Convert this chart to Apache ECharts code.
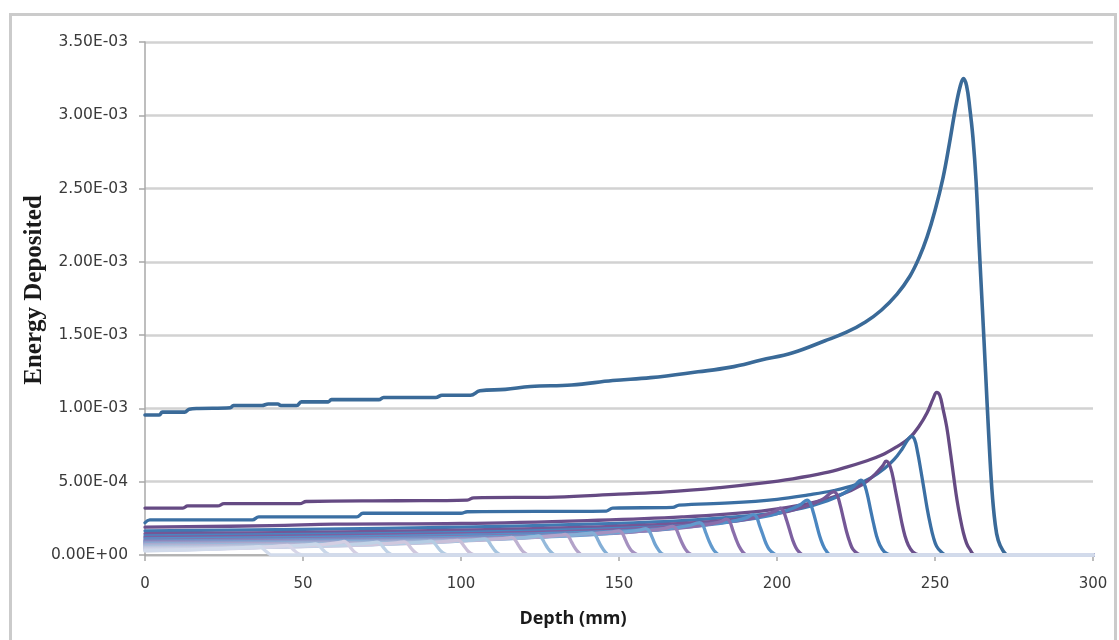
<!DOCTYPE html>
<html>
<head>
<meta charset="utf-8">
<script src="https://cdn.jsdelivr.net/npm/echarts@6/dist/echarts.min.js"></script>
<style>
html,body{margin:0;padding:0;background:#fff;}
#chart{width:1119px;height:640px;}
</style>
</head>
<body>
<div id="chart"></div>
<script>
// Depth (mm) vs energy deposited; y values in units of 1e-3
const xTicks = [0, 50, 100, 150, 200, 250, 300];
const yTickLabels = ['0.00E+00','5.00E-04','1.00E-03','1.50E-03','2.00E-03','2.50E-03','3.00E-03','3.50E-03'];

const curve00 = [[0,0.955],[4.5,0.955],[5.5,0.975],[12.5,0.975],[14,0.995],[17,1.0],[27,1.005],[28,1.02],[37,1.02],[39,1.03],[42,1.03],[43,1.02],[48,1.02],[49.5,1.045],[58,1.045],[59,1.06],[74,1.06],[75.5,1.075],[92,1.075],[94,1.09],[103,1.09],[106,1.12],[114,1.13],[122,1.15],[135,1.16],[148,1.19],[160,1.21],[175,1.25],[185,1.28],[195,1.33],[205,1.38],[215,1.46],[222,1.52],[228,1.59],[233,1.67],[238,1.78],[242,1.90],[245,2.03],[247.5,2.17],[250,2.35],[252.5,2.57],[254.5,2.8],[256.5,3.05],[258,3.2],[259,3.25],[260,3.2],[261,3.05],[262,2.85],[263,2.55],[264,2.1],[265,1.68],[266,1.25],[267,0.82],[268,0.45],[269,0.22],[270,0.1],[271.5,0.03],[273,0],[300,0]];
const curve01 = [[0,0.32],[12,0.32],[13.5,0.335],[23,0.335],[25,0.35],[49,0.35],[51,0.365],[80,0.37],[102,0.375],[104,0.39],[130,0.395],[150,0.415],[165,0.43],[182,0.46],[195,0.49],[205,0.52],[215,0.56],[222,0.6],[228,0.64],[233,0.68],[238,0.74],[242,0.8],[245,0.88],[247.5,0.97],[249.5,1.07],[250.5,1.11],[251.5,1.09],[252.5,1.0],[253.7,0.875],[255,0.68],[256,0.52],[257,0.37],[258,0.25],[259,0.15],[260,0.08],[261,0.04],[262.7,0],[300,0]];
const curve02 = [[0,0.22],[1.5,0.24],[34,0.24],[36,0.26],[67,0.26],[69,0.285],[100,0.285],[102,0.295],[146,0.3],[148,0.32],[167,0.325],[169,0.34],[185,0.355],[200,0.38],[210,0.41],[218,0.44],[225,0.48],[230,0.53],[234,0.59],[237,0.65],[239.5,0.72],[241.5,0.79],[242.5,0.81],[243.5,0.79],[244.5,0.7],[245.5,0.58],[246.5,0.45],[247.5,0.32],[248.5,0.21],[249.5,0.12],[250.5,0.06],[252,0.02],[253.7,0],[300,0]];
const curve03 = [[0,0.19],[40,0.2],[60,0.21],[100,0.215],[140,0.235],[170,0.26],[195,0.3],[210,0.35],[220,0.41],[227,0.48],[231,0.55],[233.5,0.61],[234.5,0.64],[235.5,0.62],[236.5,0.55],[237.5,0.44],[238.5,0.33],[239.5,0.22],[240.5,0.13],[241.5,0.07],[243,0.02],[245,0],[300,0]];
const curve04 = [[0,0.165],[50,0.175],[100,0.19],[140,0.21],[170,0.235],[195,0.275],[208,0.32],[216,0.37],[221,0.42],[224.5,0.47],[226.5,0.51],[227.5,0.49],[228.5,0.42],[229.5,0.32],[230.5,0.22],[231.5,0.13],[232.5,0.07],[234,0.02],[236,0],[300,0]];
const curve05 = [[0,0.145],[50,0.155],[100,0.17],[140,0.19],[170,0.215],[190,0.25],[202,0.29],[210,0.34],[214.5,0.38],[218,0.43],[219,0.41],[220,0.34],[221,0.25],[222,0.16],[223,0.09],[224,0.04],[225.5,0.01],[227,0],[300,0]];
const curve06 = [[0,0.13],[50,0.14],[100,0.155],[140,0.175],[170,0.2],[188,0.235],[198,0.27],[204,0.31],[207.5,0.345],[209.5,0.375],[210.5,0.355],[211.5,0.29],[212.5,0.21],[213.5,0.13],[214.5,0.07],[215.5,0.03],[217,0],[300,0]];
const curve07 = [[0,0.12],[50,0.13],[100,0.145],[140,0.165],[165,0.19],[182,0.22],[192,0.25],[197,0.28],[199.5,0.3],[201,0.32],[202,0.3],[203,0.24],[204,0.17],[205,0.1],[206,0.05],[207,0.02],[208.5,0],[300,0]];
const curve08 = [[0,0.11],[50,0.12],[100,0.135],[140,0.155],[165,0.18],[180,0.21],[187,0.235],[190.5,0.255],[192.5,0.275],[193.5,0.26],[194.5,0.2],[195.5,0.14],[196.5,0.08],[197.5,0.04],[199,0.01],[200,0],[300,0]];
const curve09 = [[0,0.1],[50,0.11],[100,0.125],[140,0.145],[162,0.17],[174,0.195],[180,0.215],[182.5,0.23],[184,0.245],[185,0.23],[186,0.17],[187,0.11],[188,0.06],[189,0.025],[190.5,0],[300,0]];
const curve10 = [[0,0.095],[50,0.105],[100,0.12],[135,0.14],[155,0.16],[166,0.18],[172,0.2],[175.5,0.22],[176.5,0.205],[177.5,0.15],[178.5,0.095],[179.5,0.05],[180.5,0.02],[182,0],[300,0]];
const curve11 = [[0,0.09],[50,0.1],[100,0.112],[130,0.13],[150,0.15],[160,0.168],[164.5,0.182],[167,0.195],[168,0.18],[169,0.13],[170,0.08],[171,0.04],[172,0.015],[173.5,0],[300,0]];
const curve12 = [[0,0.085],[50,0.095],[100,0.108],[125,0.122],[142,0.14],[152,0.158],[156.5,0.17],[158.5,0.18],[159.5,0.165],[160.5,0.12],[161.5,0.07],[162.5,0.035],[163.5,0.01],[165,0],[300,0]];
const curve13 = [[0,0.08],[50,0.09],[90,0.102],[118,0.118],[134,0.135],[144,0.15],[148,0.158],[150,0.165],[151,0.15],[152,0.105],[153,0.06],[154,0.028],[155.5,0.005],[156.5,0],[300,0]];
const curve14 = [[0,0.075],[40,0.083],[85,0.096],[112,0.11],[127,0.125],[136,0.138],[139.5,0.145],[141.5,0.15],[142.5,0.137],[143.5,0.095],[144.5,0.055],[145.5,0.025],[147,0],[300,0]];
const curve15 = [[0,0.07],[40,0.078],[80,0.09],[105,0.103],[120,0.117],[128,0.128],[131.5,0.135],[133,0.14],[134,0.127],[135,0.088],[136,0.05],[137,0.022],[138.5,0],[300,0]];
const curve16 = [[0,0.065],[40,0.073],[75,0.084],[98,0.096],[112,0.108],[120,0.119],[123,0.125],[124.5,0.13],[125.5,0.117],[126.5,0.08],[127.5,0.045],[128.5,0.02],[130,0],[300,0]];
const curve17 = [[0,0.06],[35,0.067],[70,0.077],[92,0.088],[105,0.1],[112,0.11],[114.5,0.115],[116,0.12],[117,0.107],[118,0.072],[119,0.04],[120,0.017],[121.5,0],[300,0]];
const curve18 = [[0,0.055],[35,0.062],[65,0.071],[85,0.081],[97,0.092],[104,0.102],[106,0.106],[107.5,0.11],[108.5,0.098],[109.5,0.066],[110.5,0.036],[111.5,0.015],[113,0],[300,0]];
const curve19 = [[0,0.05],[30,0.056],[60,0.065],[78,0.074],[89,0.084],[95.5,0.093],[97.5,0.097],[99,0.1],[100,0.089],[101,0.06],[102,0.032],[103,0.013],[104.5,0],[300,0]];
const curve20 = [[0,0.047],[30,0.053],[55,0.061],[72,0.07],[82,0.08],[87.5,0.088],[89.5,0.092],[90.5,0.095],[91.5,0.084],[92.5,0.056],[93.5,0.03],[94.5,0.012],[96,0],[300,0]];
const curve21 = [[0,0.044],[25,0.049],[50,0.057],[65,0.066],[74,0.075],[79.5,0.083],[81,0.087],[82,0.09],[83,0.079],[84,0.052],[85,0.027],[86,0.01],[87,0],[300,0]];
const curve22 = [[0,0.04],[25,0.046],[45,0.055],[58,0.064],[66,0.073],[71,0.081],[72.5,0.085],[73.5,0.088],[74.5,0.077],[75.5,0.05],[76.5,0.025],[77.5,0.009],[78.5,0],[300,0]];
const curve23 = [[0,0.037],[20,0.043],[38,0.052],[50,0.062],[57,0.073],[60.5,0.083],[62,0.088],[63,0.092],[64,0.08],[65,0.052],[66,0.026],[67,0.009],[68,0],[300,0]];
const curve24 = [[0,0.033],[20,0.04],[35,0.05],[45,0.06],[50.5,0.068],[53,0.073],[54,0.075],[55,0.065],[56,0.042],[57,0.02],[58,0.006],[59,0],[300,0]];
const curve25 = [[0,0.03],[15,0.036],[28,0.044],[37,0.053],[42,0.06],[44,0.063],[45,0.065],[46,0.056],[47,0.036],[48,0.017],[49,0.005],[50,0],[300,0]];
const curve26 = [[0,0.028],[12,0.034],[22,0.041],[30,0.049],[34,0.054],[36,0.057],[37,0.049],[38,0.03],[39,0.013],[40,0],[300,0]];

const curves = [curve00,curve01,curve02,curve03,curve04,curve05,curve06,curve07,curve08,curve09,curve10,curve11,curve12,curve13,curve14,curve15,curve16,curve17,curve18,curve19,curve20,curve21,curve22,curve23,curve24,curve25,curve26];
const colors = ['#3a6a98','#654a83','#3b6fa3','#6b4f8c','#4079b2','#745796','#4a86c0','#7d60a0','#5690c8','#8a6eab','#629acd','#977fb6','#72a4d2','#a591c0','#84afd6','#b3a3c9','#95badb','#bfb2d1','#a6c4df','#c9bfd8','#b4cce3','#d0c8de','#c0d2e6','#d4cfe3','#cad7e9','#d7d6e8','#d2dbeb'];

const chart = echarts.init(document.getElementById('chart'), null, {renderer:'canvas'});
const series = curves.map((d, i) => ({
  type: 'line',
  data: d,
  showSymbol: false,
  smooth: 0.4,
  lineStyle: {width: i === 0 ? 3.6 : 3.3, color: colors[i], join: 'round', cap: 'round'},
  itemStyle: {color: colors[i]},
  z: 2 + i
}));

chart.setOption({
  animation: false,
  backgroundColor: '#ffffff',
  grid: {left: 145, right: 26, top: 42, bottom: 85, containLabel: false},
  xAxis: {
    type: 'value', min: 0, max: 300, interval: 50,
    axisLine: {show: true, lineStyle: {color: '#a8a8a8', width: 1.5}},
    axisTick: {show: true, length: 6, lineStyle: {color: '#a8a8a8', width: 1.5}},
    splitLine: {show: false},
    axisLabel: {margin: 22, color: '#3a3a3a', fontFamily: 'DejaVu Sans', fontSize: 15,
      formatter: v => xTicks.indexOf(v) >= 0 ? String(v) : ''}
  },
  yAxis: {
    type: 'value', min: 0, max: 3.5, interval: 0.5,
    axisLine: {show: true, lineStyle: {color: '#a8a8a8', width: 1.5}},
    axisTick: {show: true, length: 6, lineStyle: {color: '#a8a8a8', width: 1.5}},
    splitLine: {show: true, lineStyle: {color: '#d2d2d2', width: 2.5}},
    axisLabel: {margin: 17, color: '#3a3a3a', fontFamily: 'DejaVu Sans', fontSize: 15.5,
      formatter: v => yTickLabels[Math.round(v / 0.5)] || ''}
  },
  graphic: [
    {type: 'rect', left: 8, top: 12, shape: {width: 1105, height: 660},
      style: {fill: 'none', stroke: '#cbcbcb', lineWidth: 3}, silent: true, z: -10},
    {type: 'text', x: 573, y: 619,
      style: {text: 'Depth (mm)', font: 'bold 18px "Open Sans"', fill: '#1a1a1a',
        textAlign: 'center', textVerticalAlign: 'middle'}},
    {type: 'text', x: 35, y: 290, rotation: Math.PI / 2, originX: 0, originY: 0,
      style: {text: 'Energy Deposited', font: 'bold 25px "Liberation Serif"', fill: '#1a1a1a',
        textAlign: 'center', textVerticalAlign: 'middle'}}
  ],
  series: series
});
</script>
</body>
</html>
